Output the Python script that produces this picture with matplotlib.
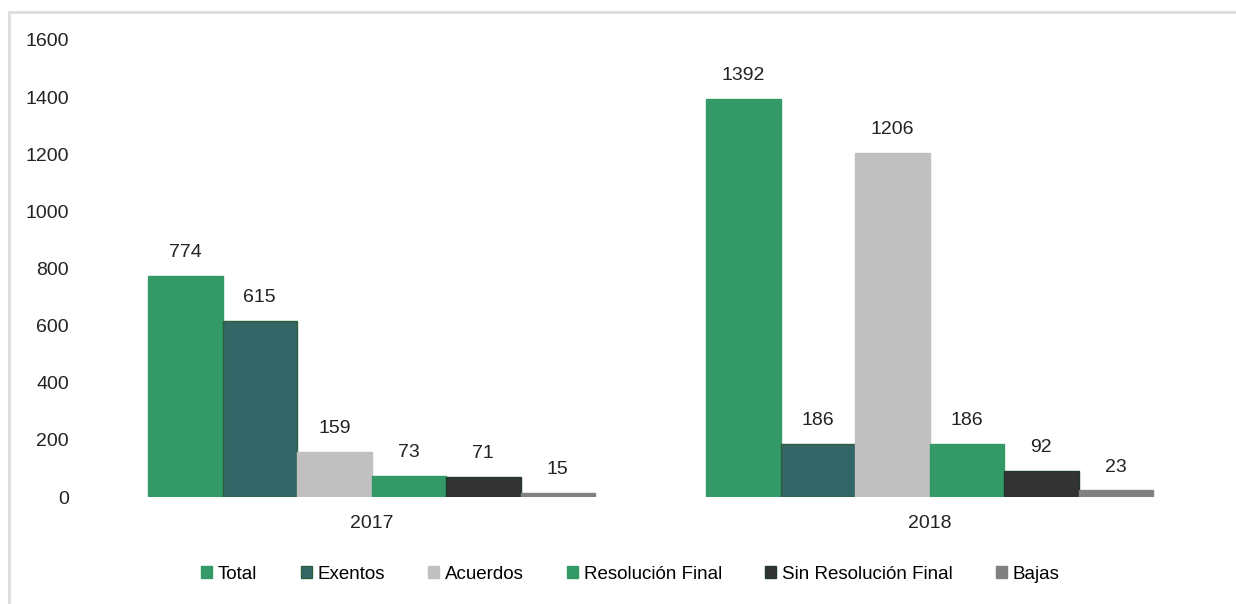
import numpy as np
import matplotlib.pyplot as plt
from matplotlib.lines import Line2D

years = ["2017", "2018"]
series = ["Total", "Exentos", "Acuerdos", "Resolución Final", "Sin Resolución Final", "Bajas"]
total = [774, 1392]
exentos = [615, 186]
acuerdos = [159, 1206]
resolucion = [73, 186]
sin_resolucion = [71, 92]
bajas = [15, 23]
values = [total, exentos, acuerdos, resolucion, sin_resolucion, bajas]

colors = ["#339966", "#336666", "#C0C0C0", "#339966", "#333333", "#808080"]
edges = ["#339966", "#2E5E3A", "#C0C0C0", "#339966", "#1F3A2A", "#808080"]

plt.rcParams['font.family'] = ['Liberation Sans', 'DejaVu Sans']

fig = plt.figure(figsize=(12.36, 6.04), dpi=100)
ax = fig.add_axes([92.5 / 1236, 107 / 604, 1116 / 1236, 457 / 604])

x = np.arange(len(years))
w = 74.5 / 558
for i, (name, vals) in enumerate(zip(series, values)):
    pos = x + (i - 2.5) * w
    bars = ax.bar(pos, vals, width=w, color=colors[i], edgecolor=edges[i],
                  linewidth=1, label=name)
    for b, v in zip(bars, vals):
        ax.text(b.get_x() + b.get_width() / 2, v + 82, str(v),
                ha="center", va="center", fontsize=14, color="#222222")

ax.set_xlim(-0.5, 1.5)
ax.set_ylim(0, 1600)
ax.set_yticks(range(0, 1601, 200))
ax.set_xticks(x)
ax.set_xticklabels(years)
ax.tick_params(axis="both", length=0, labelsize=14, colors="#222222")
ax.tick_params(axis="y", pad=17)
ax.tick_params(axis="x", pad=13)
for s in ax.spines.values():
    s.set_visible(False)

ax.legend(loc="upper center", bbox_to_anchor=(0.482, -0.114), ncol=6, frameon=False,
          fontsize=13.5, handlelength=0.6, handleheight=0.6, handletextpad=0.3,
          columnspacing=2.3)

# light frame on top and left
fig.add_artist(Line2D([9 / 1236, 9 / 1236], [0, 1 - 12 / 604], color="#DDDDDD", lw=2))
fig.add_artist(Line2D([9 / 1236, 1], [1 - 12 / 604, 1 - 12 / 604], color="#DDDDDD", lw=2))

fig.savefig("out.png", dpi=100)
